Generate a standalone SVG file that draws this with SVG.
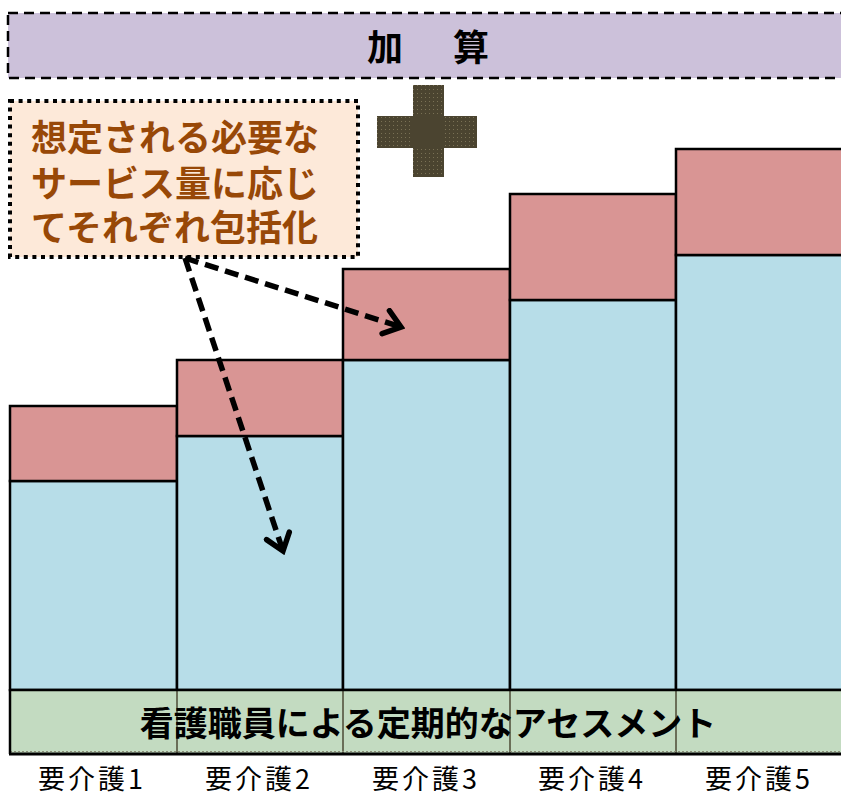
<svg xmlns="http://www.w3.org/2000/svg" width="841" height="798" viewBox="0 0 841 798">
<style>
.bar-top{fill:#D99594;stroke:#000;stroke-width:2.5}
.bar-base{fill:#B7DDE8;stroke:#000;stroke-width:2.5}
.jp{font-family:"Noto Sans CJK JP","Noto Sans",sans-serif}
.lbl{font-size:27px;fill:#000;text-anchor:middle;letter-spacing:3px}
.conn{fill:none;stroke:#000;stroke-width:5.5;stroke-dasharray:14 7}
</style>
<defs>
<pattern id="dots" width="4" height="4" patternUnits="userSpaceOnUse">
<rect width="4" height="4" fill="#4B4430"/>
<rect x="1" y="1" width="1" height="1" fill="#7A7155"/>
</pattern>
<marker id="head" viewBox="-20 -15 24 30" refX="0" refY="0" markerWidth="24" markerHeight="30" markerUnits="userSpaceOnUse" orient="auto">
<path d="M-16,-12 L0,0 L-16,12" fill="none" stroke="#000" stroke-width="5.5" stroke-linecap="round" stroke-linejoin="miter"/>
</marker>
</defs>
<rect width="841" height="798" fill="#fff"/>

<g id="kasan">
<rect x="8" y="13" width="845" height="65" fill="#CCC1DA" stroke="#000" stroke-width="2.5" stroke-dasharray="10 6"/>
<text class="jp" x="385" y="45" font-size="36" font-weight="bold" text-anchor="middle" dominant-baseline="central">加</text>
<text class="jp" x="471" y="45" font-size="36" font-weight="bold" text-anchor="middle" dominant-baseline="central">算</text>
</g>

<g id="plus">
<rect x="413" y="85" width="31" height="92" fill="url(#dots)"/>
<rect x="377" y="116" width="100" height="32" fill="url(#dots)"/>
<rect x="413" y="116" width="31" height="32" fill="#4B4430"/>
</g>

<g id="bar1">
<rect class="bar-base" x="10" y="481" width="167" height="209"/>
<rect class="bar-top" x="10" y="406" width="167" height="75"/>
</g>
<g id="bar2">
<rect class="bar-base" x="177" y="436" width="166" height="254"/>
<rect class="bar-top" x="177" y="360" width="166" height="76"/>
</g>
<g id="bar3">
<rect class="bar-base" x="343" y="360" width="167" height="330"/>
<rect class="bar-top" x="343" y="269" width="167" height="91"/>
</g>
<g id="bar4">
<rect class="bar-base" x="510" y="300" width="166" height="390"/>
<rect class="bar-top" x="510" y="194" width="166" height="106"/>
</g>
<g id="bar5">
<rect class="bar-base" x="676" y="255" width="180" height="435"/>
<rect class="bar-top" x="676" y="149" width="180" height="106"/>
</g>

<g id="assessment">
<rect x="10" y="690" width="845" height="63" fill="#C3DBC1"/>
<g stroke="#4D4A35" stroke-width="1.5">
<line x1="177" y1="690" x2="177" y2="753"/>
<line x1="343" y1="690" x2="343" y2="753"/>
<line x1="510" y1="690" x2="510" y2="753"/>
<line x1="676" y1="690" x2="676" y2="753"/>
</g>
<line x1="10" y1="751.5" x2="841" y2="751.5" stroke="#8A8F78" stroke-width="1" stroke-dasharray="2 2"/>
<line x1="10" y1="689" x2="10" y2="754" stroke="#000" stroke-width="2.5"/>
<line x1="9" y1="754" x2="841" y2="754" stroke="#000" stroke-width="3"/>
<line x1="9" y1="690" x2="841" y2="690" stroke="#000" stroke-width="2.5"/>
<text class="jp" x="428" y="721" font-size="34" font-weight="bold" text-anchor="middle" dominant-baseline="central">看護職員による定期的なアセスメント</text>
</g>

<g id="note">
<rect x="10" y="101" width="348" height="156" fill="#FDE9D9" stroke="#000" stroke-width="4" stroke-dasharray="4 4.6"/>
<g class="jp" font-size="36" font-weight="bold" fill="#984807" dominant-baseline="central">
<text x="31" y="135">想定される必要な</text>
<text x="31" y="181">サービス量に応じ</text>
<text x="31" y="225">てそれぞれ包括化</text>
</g>
</g>

<g id="connectors">
<line class="conn" x1="185" y1="258" x2="283" y2="551" marker-end="url(#head)"/>
<line class="conn" x1="185" y1="258" x2="401" y2="327" marker-end="url(#head)"/>
</g>

<g id="labels" class="jp">
<text class="lbl" x="92" y="789">要介護1</text>
<text class="lbl" x="259" y="789">要介護2</text>
<text class="lbl" x="426" y="789">要介護3</text>
<text class="lbl" x="592" y="789">要介護4</text>
<text class="lbl" x="759" y="789">要介護5</text>
</g>
</svg>
